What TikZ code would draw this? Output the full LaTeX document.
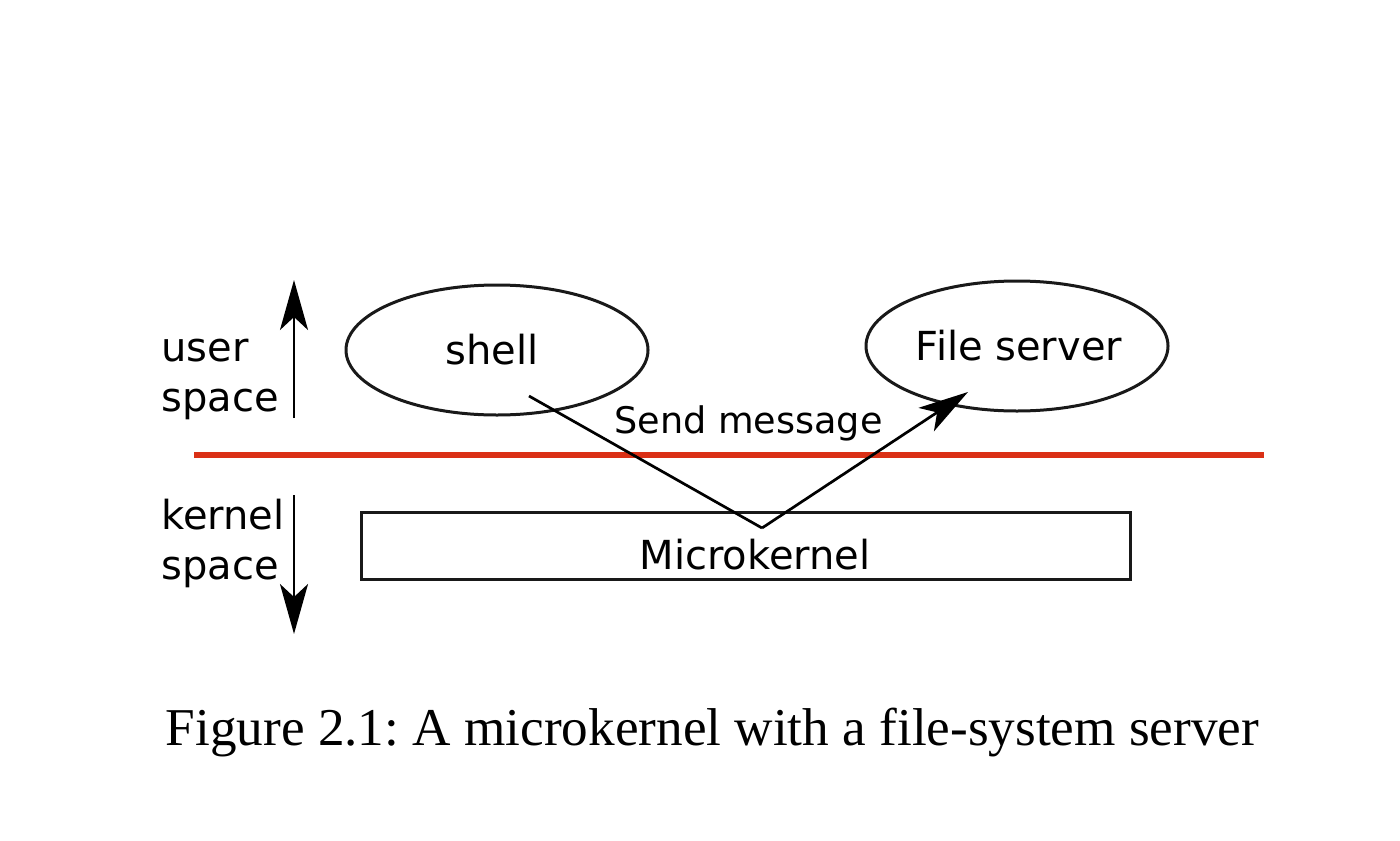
\documentclass[tikz,border=0pt]{standalone}
\usepackage{fontspec}
\setmainfont{Liberation Serif}
\newfontfamily\dejavu{DejaVu Sans}
\usetikzlibrary{shapes.geometric,arrows.meta}
\definecolor{redline}{RGB}{218,48,22}
\definecolor{ink}{RGB}{25,25,25}
\tikzset{
  lbl/.style={font=\dejavu\fontsize{20}{25}\selectfont, inner sep=0pt},
  small/.style={font=\dejavu\fontsize{18.3}{22}\selectfont, inner sep=0pt},
  proc/.style={ellipse, draw=ink, line width=1.5pt, minimum width=151pt, minimum height=65pt, inner sep=0pt, lbl},
  kbox/.style={rectangle, draw=ink, line width=1.5pt, minimum width=384.5pt, minimum height=33.5pt, inner sep=0pt},
  bigtip/.style={-{Stealth[length=25pt,width=14pt,inset=6.5pt]}, line width=1.35pt},
  msg/.style={line width=1.35pt, line join=miter},
}
\begin{document}
\frenchspacing
\begin{tikzpicture}[x=0.5pt,y=-0.5pt]
\useasboundingbox (0,0) rectangle (1400,840);
% processes
\node[proc] (shell) at (497,350) {\hspace*{-5pt}shell};
\node[proc] (fs) at (1017,346) {\hspace*{2pt}File server};
% kernel box
\node[kbox] (mk) at (745.5,545.5) {};
\node[lbl, anchor=base] (mklbl) at (755,569) {Microkernel};
% boundary line
\coordinate (rl) at (194,455);
\coordinate (rr) at (1264,455);
\draw[redline, line width=3.2pt] (rl) -- (rr);
% side labels
\node[lbl, anchor=base west, align=left] (user) at (161,411) {user\\space};
\node[lbl, anchor=base west, align=left] (kern) at (161,579) {kernel\\space};
% direction arrows
\coordinate (ua0) at (294,418);
\coordinate (ua1) at (294,280);
\coordinate (da0) at (294,495);
\coordinate (da1) at (294,634);
\draw[bigtip] (ua0) -- (ua1);
\draw[bigtip] (da0) -- (da1);
% message path
\coordinate (m0) at (529,396);
\coordinate (mv) at (762,528);
\coordinate (m1) at (968,392);
\draw[msg] (m0) -- (mv);
\draw[bigtip] (mv) -- (m1);
\node[small, anchor=base] (send) at (748.5,433) {Send message};
% caption
\node[font=\fontsize{26.6}{30}\selectfont, anchor=base, inner sep=0pt] (cap) at (712.5,745) {Figure 2.1: A microkernel with a file-system server};
\end{tikzpicture}
\end{document}
